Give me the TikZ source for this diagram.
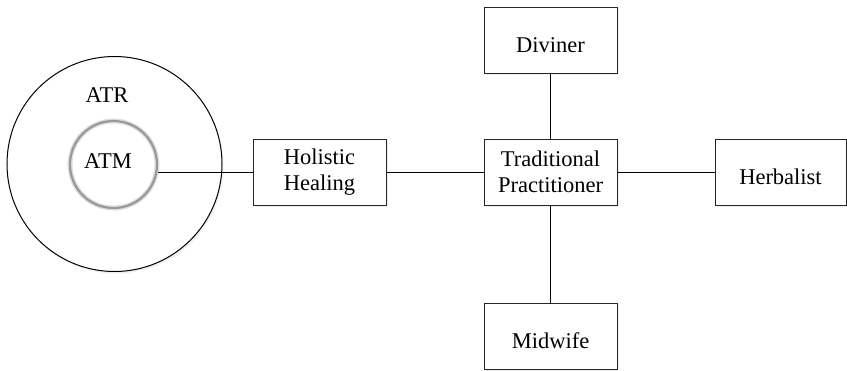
\documentclass[tikz,border=0pt]{standalone}
\usepackage{fontspec}
\setmainfont{Liberation Serif}
\usetikzlibrary{shadows}
\begin{document}
\begin{tikzpicture}[x=1pt,y=-1pt,
  every node/.style={font=\fontsize{22.5}{26}\selectfont},
  box/.style={draw=black!85, line width=1pt, fill=white, minimum width=133pt, minimum height=66pt, inner sep=0pt, align=center,
    drop shadow={opacity=0.12, shadow xshift=1.5pt, shadow yshift=-1.5pt}},
  onebox/.style={box, text height=24pt, text depth=0pt},
  link/.style={draw=black, line width=0.9pt}]
\useasboundingbox (0,0) rectangle (847,370);
\node[circle, draw=black, line width=1pt, fill=white, minimum size=215pt, inner sep=0pt,
  drop shadow={opacity=0.12, shadow xshift=1.5pt, shadow yshift=-2pt}] (atr) at (114.5,164) {};
\node (atrl) at (107,95) {ATR};
\node[circle, draw=gray!25, line width=5pt, minimum size=87pt, inner sep=0pt] (atmglow) at (113.5,164.5) {};
\node[circle, draw=gray!80, line width=2.2pt, minimum size=87pt, inner sep=0pt] (atm) at (113.5,164.5) {};
\node (atml) at (108,161) {ATM};
\node[box] (hol) at (319.5,172) {Holistic\\Healing};
\node[box] (tp) at (550.5,172) {Traditional\\Practitioner};
\node[onebox] (div) at (550.5,40) {Diviner};
\node[onebox] (mid) at (550.5,336.8) {Midwife};
\node[onebox, minimum width=131pt] (herb) at (780.5,172) {Herbalist};
\draw[link] (hol.west) -- (hol.west -| atm.east);
\draw[link] (hol) -- (tp);
\draw[link] (tp) -- (herb);
\draw[link] (tp) -- (div);
\draw[link] (tp) -- (mid);
\end{tikzpicture}
\end{document}
